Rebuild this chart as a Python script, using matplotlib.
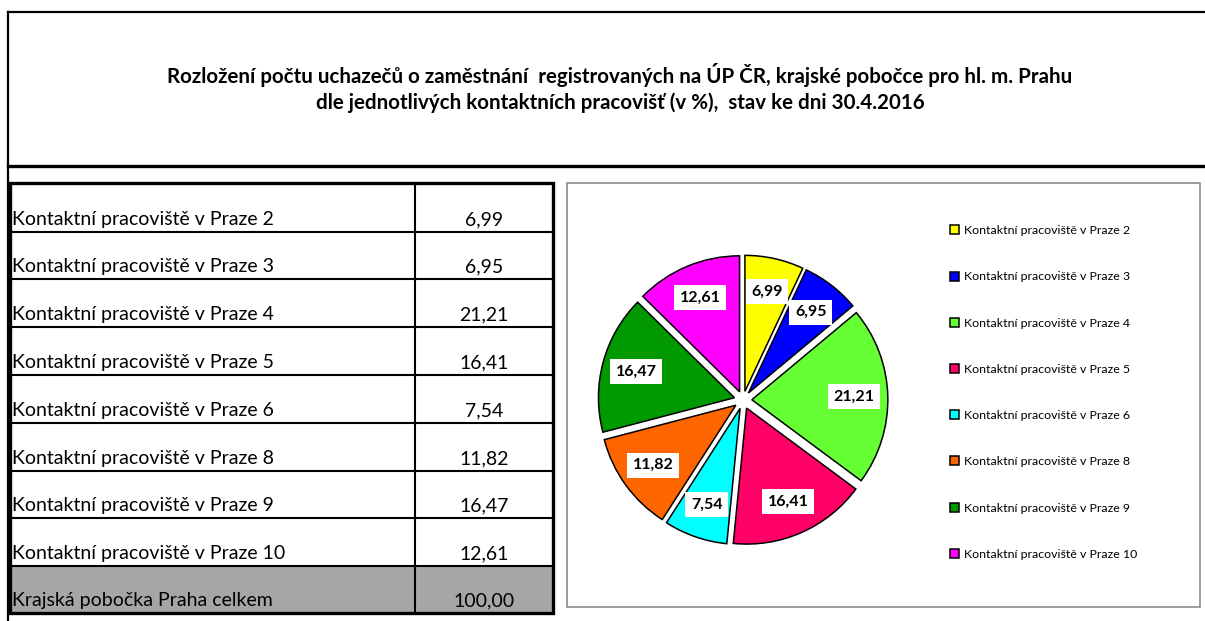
import numpy as np
import matplotlib
matplotlib.use('Agg')
import matplotlib.pyplot as plt
from matplotlib.patches import Rectangle

plt.rcParams['font.family'] = ['Lato', 'DejaVu Sans']

# data
labels = ['Kontaktní pracoviště v Praze 2', 'Kontaktní pracoviště v Praze 3',
          'Kontaktní pracoviště v Praze 4', 'Kontaktní pracoviště v Praze 5',
          'Kontaktní pracoviště v Praze 6', 'Kontaktní pracoviště v Praze 8',
          'Kontaktní pracoviště v Praze 9', 'Kontaktní pracoviště v Praze 10']
values = [6.99, 6.95, 21.21, 16.41, 7.54, 11.82, 16.47, 12.61]
total_label = 'Krajská pobočka Praha celkem'
total_value = 100.00
colors = ['#ffff00', '#0000ff', '#66ff33', '#ff0066',
          '#00ffff', '#ff6600', '#009900', '#ff00ff']
title_lines = ['Rozložení počtu uchazečů o zaměstnání  registrovaných na ÚP ČR, krajské pobočce pro hl. m. Prahu',
               'dle jednotlivých kontaktních pracovišť (v %),  stav ke dni 30.4.2016']


def fmt(v):
    return ('%.2f' % v).replace('.', ',')


W, H = 1205, 621
fig = plt.figure(figsize=(W / 100, H / 100), dpi=100)

# page axes in pixel coordinates
bg = fig.add_axes([0, 0, 1, 1])
bg.set_xlim(0, W)
bg.set_ylim(H, 0)
bg.axis('off')

# sheet frame
bg.plot([8, W], [12, 12], color='black', lw=1.6)
bg.plot([8, 8], [12, H], color='black', lw=1.6)
bg.plot([8, W], [166, 166], color='black', lw=2.4)

for y, line in zip([75, 103], title_lines):
    bg.text(620, y, line, ha='center', va='center', fontsize=14.8,
            fontweight='bold')

# table
tx0, tx1, tcol = 10, 553, 415
row_tops = [183, 232, 279, 327, 375, 423, 471, 518, 566]
tb = 613
bg.add_patch(Rectangle((tx0, row_tops[-1]), tx1 - tx0, tb - row_tops[-1],
                       facecolor='#a6a6a6', edgecolor='none'))
rows = list(zip(labels, values)) + [(total_label, total_value)]
for i, (lab, val) in enumerate(rows):
    top = row_tops[i]
    bottom = row_tops[i + 1] if i + 1 < len(row_tops) else tb
    bg.text(12, bottom - 7, lab, ha='left', va='baseline', fontsize=14)
    bg.text((tcol + tx1) / 2, bottom - 7, fmt(val), ha='center',
            va='baseline', fontsize=14)
    if i > 0:
        bg.plot([tx0, tx1], [top, top], color='black', lw=1.5)
bg.plot([tcol, tcol], [row_tops[0], tb], color='black', lw=1.5)
bg.add_patch(Rectangle((tx0, row_tops[0]), tx1 - tx0, tb - row_tops[0],
                       facecolor='none', edgecolor='black', lw=2.4))

# chart box
bg.add_patch(Rectangle((567, 183), 633, 424, facecolor='white',
                       edgecolor='#8c8c8c', lw=1.2))

# pie
cx, cy, r_px, half = 743, 400, 134, 170
pax = fig.add_axes([(cx - half) / W, (H - cy - half) / H, 2 * half / W, 2 * half / H])
lim = half / r_px
pax.set_xlim(-lim, lim)
pax.set_ylim(-lim, lim)
pax.axis('off')
expl = 0.065
wedges, _ = pax.pie(values, colors=colors, startangle=90, counterclock=False,
                    explode=[expl] * len(values),
                    wedgeprops=dict(edgecolor='black', linewidth=1.1))
for w, v in zip(wedges, values):
    ang = np.deg2rad((w.theta1 + w.theta2) / 2)
    d = 0.75 + expl
    pax.text(d * np.cos(ang), d * np.sin(ang), fmt(v), ha='center',
             va='center', fontsize=11.5, fontweight='bold',
             bbox=dict(boxstyle='square,pad=0.35', fc='white', ec='none'))

# legend
leg = fig.legend(wedges, labels, loc='upper left',
                 bbox_to_anchor=(939 / W, 1 - 214 / H), frameon=False,
                 fontsize=8.9, handlelength=0.75, handleheight=0.75,
                 handletextpad=0.4, labelspacing=2.85)

fig.savefig('out.png', dpi=100)
